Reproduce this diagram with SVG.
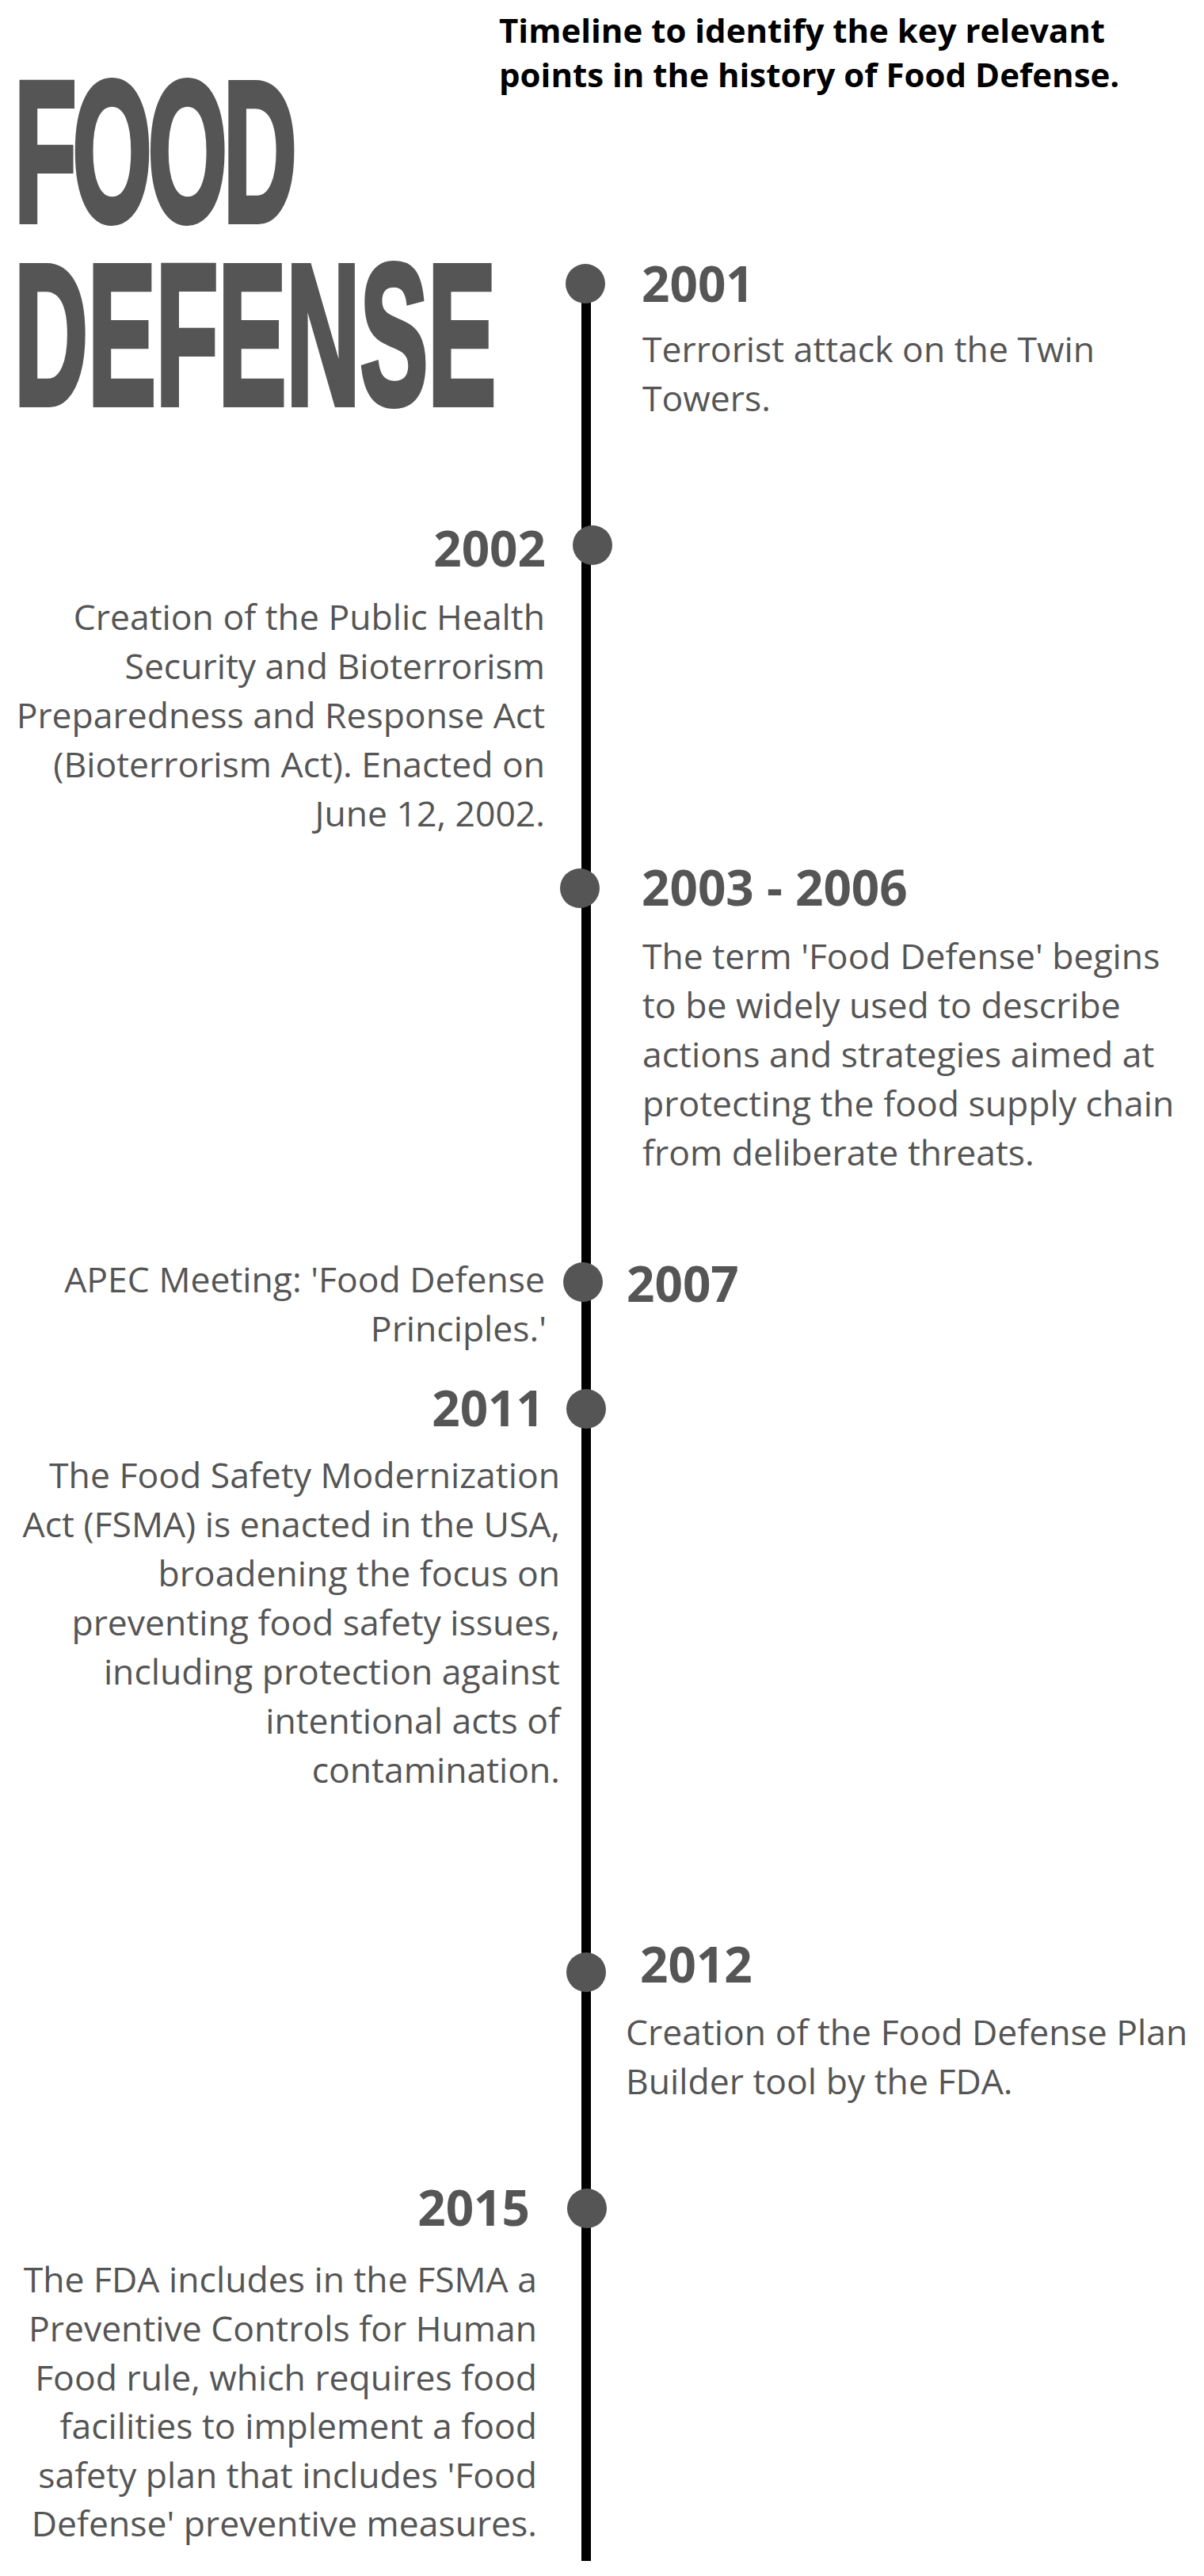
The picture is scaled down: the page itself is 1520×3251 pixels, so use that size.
<svg xmlns="http://www.w3.org/2000/svg" width="1520" height="3251" viewBox="0 0 1520 3251">
  <style>
    .big { font-family: "Liberation Sans", Arial, sans-serif; font-weight: 700; font-size: 253px; fill: #555555; stroke: #555555; stroke-width: 8; stroke-linejoin: miter; vector-effect: non-scaling-stroke; }
    .title { font-family: "Open Sans", "Noto Sans", sans-serif; font-weight: 700; font-size: 42px; fill: #000000; }
    .year { font-family: "Open Sans", "Noto Sans", sans-serif; font-weight: 700; font-size: 62px; fill: #555555; }
    .body { font-family: "Open Sans", "Noto Sans", sans-serif; font-weight: 400; font-size: 44.5px; fill: #555555; }
    .end { text-anchor: end; }
    .dot { fill: #555555; }
    .axis { stroke: #000000; stroke-width: 12; fill: none; }
  </style>
  <rect width="1520" height="3251" fill="#ffffff"/>

  <g id="heading">
    <text class="big" transform="translate(18,0) scale(0.509,1)"><tspan x="0" y="279" letter-spacing="-10">FOOD</tspan><tspan x="0" y="510">DEFENSE</tspan></text>
  </g>

  <g id="subtitle">
    <text class="title" x="630" y="54">Timeline to identify the key relevant</text>
    <text class="title" x="630" y="110">points in the history of Food Defense.</text>
  </g>

  <g id="connectors">
    <line class="axis" x1="740" y1="358" x2="740" y2="3232"/>
  </g>

  <g id="event-2001">
    <circle class="dot" cx="739" cy="358" r="25"/>
    <text class="year" x="810" y="381">2001</text>
    <text class="body" x="811" y="457">Terrorist attack on the Twin</text>
    <text class="body" x="811" y="519">Towers.</text>
  </g>

  <g id="event-2002">
    <circle class="dot" cx="748" cy="688" r="25"/>
    <text class="year end" x="689" y="715">2002</text>
    <text class="body end" x="688" y="795">Creation of the Public Health</text>
    <text class="body end" x="688" y="857">Security and Bioterrorism</text>
    <text class="body end" x="688" y="919">Preparedness and Response Act</text>
    <text class="body end" x="688" y="981">(Bioterrorism Act). Enacted on</text>
    <text class="body end" x="688" y="1043">June 12, 2002.</text>
  </g>

  <g id="event-2003-2006">
    <circle class="dot" cx="732" cy="1121" r="25"/>
    <text class="year" x="810" y="1143">2003 - 2006</text>
    <text class="body" x="811" y="1223">The term 'Food Defense' begins</text>
    <text class="body" x="811" y="1285">to be widely used to describe</text>
    <text class="body" x="811" y="1347">actions and strategies aimed at</text>
    <text class="body" x="811" y="1409">protecting the food supply chain</text>
    <text class="body" x="811" y="1471">from deliberate threats.</text>
  </g>

  <g id="event-2007">
    <circle class="dot" cx="736" cy="1618" r="25"/>
    <text class="year" x="791" y="1643">2007</text>
    <text class="body end" x="688" y="1631">APEC Meeting: 'Food Defense</text>
    <text class="body end" x="690" y="1693">Principles.'</text>
  </g>

  <g id="event-2011">
    <circle class="dot" cx="740" cy="1778" r="25"/>
    <text class="year end" x="687" y="1800">2011</text>
    <text class="body end" x="707" y="1878">The Food Safety Modernization</text>
    <text class="body end" x="707" y="1940">Act (FSMA) is enacted in the USA,</text>
    <text class="body end" x="707" y="2002">broadening the focus on</text>
    <text class="body end" x="707" y="2064">preventing food safety issues,</text>
    <text class="body end" x="707" y="2126">including protection against</text>
    <text class="body end" x="707" y="2188">intentional acts of</text>
    <text class="body end" x="707" y="2250">contamination.</text>
  </g>

  <g id="event-2012">
    <circle class="dot" cx="740" cy="2489" r="25"/>
    <text class="year" x="808" y="2502">2012</text>
    <text class="body" x="790" y="2581">Creation of the Food Defense Plan</text>
    <text class="body" x="790" y="2643">Builder tool by the FDA.</text>
  </g>

  <g id="event-2015">
    <circle class="dot" cx="741" cy="2787" r="25"/>
    <text class="year end" x="669" y="2809">2015</text>
    <text class="body end" x="678" y="2893">The FDA includes in the FSMA a</text>
    <text class="body end" x="678" y="2955">Preventive Controls for Human</text>
    <text class="body end" x="678" y="3017">Food rule, which requires food</text>
    <text class="body end" x="678" y="3078">facilities to implement a food</text>
    <text class="body end" x="678" y="3140">safety plan that includes 'Food</text>
    <text class="body end" x="678" y="3201">Defense' preventive measures.</text>
  </g>
</svg>
